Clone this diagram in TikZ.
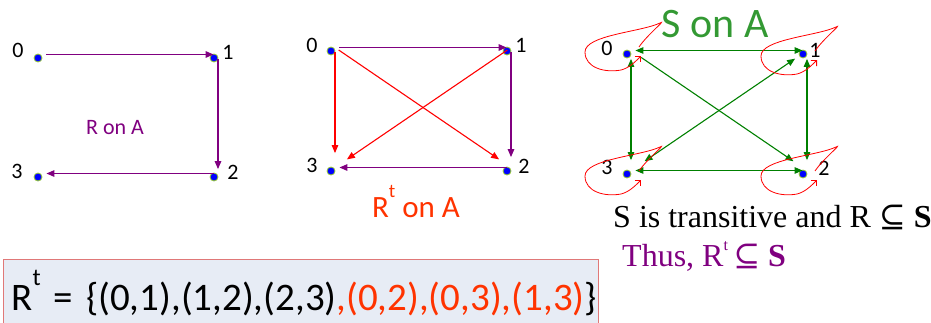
\documentclass[tikz,border=0pt]{standalone}
\usepackage{fontspec}
\setmainfont{Carlito}
\newfontfamily\serifface{Liberation Serif}
\newfontfamily\symface{DejaVu Serif}
\usepackage{xcolor}
\usetikzlibrary{arrows.meta, positioning, calc}

\definecolor{relpurple}{RGB}{128,0,128}
\definecolor{newpair}{RGB}{255,51,0}
\definecolor{sgreen}{RGB}{0,128,0}
\definecolor{stitle}{RGB}{51,153,51}
\definecolor{dotrim}{RGB}{154,205,50}
\definecolor{boxfill}{RGB}{231,236,245}
\definecolor{boxrim}{RGB}{224,120,120}

% raised t of the closure
\newcommand{\tclos}[1][0.62]{\raisebox{0.64em}{\scalebox{#1}{t}}}

\begin{document}
\begin{tikzpicture}
  [x=1pt, y=-1pt, >={Triangle[length=8pt,width=6.5pt]},
   vertex/.style={circle, fill=blue, draw=dotrim, line width=0.8pt, inner sep=0pt, minimum size=8pt},
   num/.style={inner sep=0pt, font=\fontsize{22}{26}\selectfont},
   title/.style={inner sep=0pt, anchor=base},
   rel/.style={->, relpurple, line width=1.3pt, transform canvas={xshift=4pt, yshift=3.5pt}},
   addrel/.style={->, red, line width=1.1pt, shorten >=10pt, transform canvas={xshift=4pt, yshift=3.5pt}},
   srel/.style={<->, sgreen, line width=1.1pt, transform canvas={xshift=4pt, yshift=3.5pt}},
   selfloop/.style={red, line width=0.8pt, -{Straight Barb[length=4pt,width=8pt]}},
   setbox/.style={draw=boxrim, fill=boxfill, line width=0.8pt, anchor=base west, text width=579pt,
                  inner xsep=8pt, inner ysep=10pt, font=\fontsize{39}{46}\selectfont}
  ]
  \useasboundingbox (0,0) rectangle (931,322);

  % R on A
  \node[vertex] (a0) at (38,58) {};
  \node[vertex] (a1) at (214,58) {};
  \node[vertex] (a2) at (214,177) {};
  \node[vertex] (a3) at (38,177) {};
  \node[num] (la0) at (18,50) {0};
  \node[num] (la1) at (228,52) {1};
  \node[num] (la2) at (233,172) {2};
  \node[num] (la3) at (17,171) {3};
  \node[title, relpurple, font=\fontsize{22}{26}\selectfont] (rtitle) at (115,134) {R on A};

  \draw[rel] (a0) -- (a1);
  \draw[rel] (a1) -- (a2);
  \draw[rel] (a2) -- (a3);

  % R^t on A
  \node[vertex] (b0) at (331,51) {};
  \node[vertex] (b1) at (507,51) {};
  \node[vertex] (b2) at (507,171) {};
  \node[vertex] (b3) at (331,171) {};
  \node[num] (lb0) at (312,45) {0};
  \node[num] (lb1) at (521,45) {1};
  \node[num] (lb2) at (524,166) {2};
  \node[num] (lb3) at (312,165) {3};
  \node[title, newpair, font=\fontsize{31}{36}\selectfont] (rttitle) at (416,217) {R\tclos\ on A};

  \draw[rel] (b0) -- (b1);
  \draw[rel, shorten >=6pt] (b1) -- (b2);
  \draw[rel] (b2) -- (b3);
  \draw[addrel] (b0) -- (b3);
  \draw[addrel] (b0) -- (b2);
  \draw[addrel] (b1) -- (b3);

  % S on A
  \node[vertex] (c0) at (627,54) {};
  \node[vertex] (c1) at (803,54) {};
  \node[vertex] (c2) at (803,174) {};
  \node[vertex] (c3) at (627,174) {};
  \node[num] (lc0) at (607,48) {0};
  \node[num] (lc1) at (815,50) {1};
  \node[num] (lc2) at (824,168) {2};
  \node[num] (lc3) at (607,167) {3};
  \node[title, stitle, font=\fontsize{42}{48}\selectfont] (stitle) at (715,37) {S on A};

  \draw[srel] (c0) -- (c1);
  \draw[srel, shorten <=4pt, shorten >=6pt] (c0) -- (c3);
  \draw[srel, shorten <=4pt, shorten >=6pt] (c1) -- (c2);
  \draw[srel] (c3) -- (c2);
  \draw[srel, shorten <=10pt, shorten >=12pt] (c1) -- (c3);
  \draw[srel, -> , shorten <=8pt, shorten >=12pt] (c0) -- (c2);

  \foreach \n/\dy in {c0/-3, c1/1, c2/1, c3/1}{
    \begin{scope}[shift={($(\n)+(0,\dy)$)}]
      \draw[selfloop] (12,-4) .. controls (20,-16) and (40,-32) .. (33,-28)
        .. controls (14,-19) and (-42,-16) .. (-42,1)
        .. controls (-42,17) and (-22,22) .. (-6,19)
        .. controls (2,17) and (8,11) .. (14,5);
    \end{scope}
  }

  % statements
  \node[inner sep=0pt, anchor=base west, font=\serifface\fontsize{32}{38}\selectfont] (claim) at (613,227)
    {S is transitive and R {\symface ⊆} \textbf{S}};
  \node[inner sep=0pt, anchor=base west, relpurple, font=\serifface\fontsize{32}{38}\selectfont] (thus) at (622,266)
    {Thus, R\raisebox{0.5em}{\scalebox{0.5}{t}}\,{\symface ⊆} \textbf{S}};

  \node[setbox] (rtset) at (3,310)
    {R\tclos\ = \{(0,1),(1,2),(2,3)\textcolor{newpair}{,(0,2),(0,3),(1,3)}\}};
\end{tikzpicture}
\end{document}
